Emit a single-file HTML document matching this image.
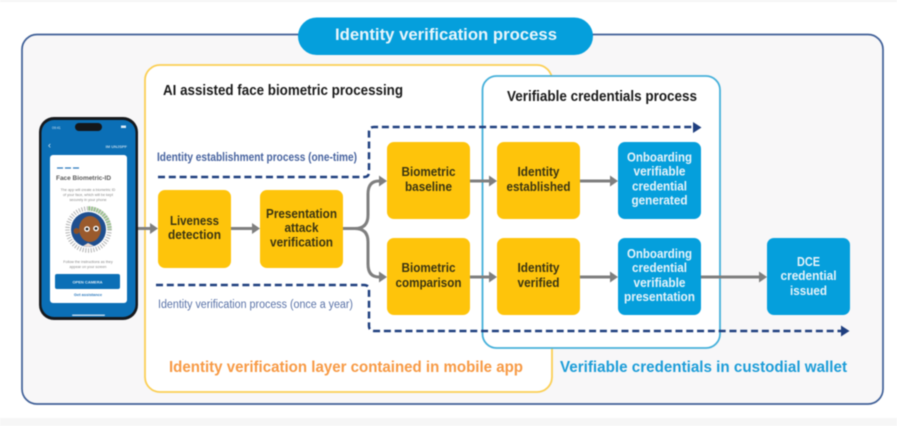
<!DOCTYPE html>
<html><head><meta charset="utf-8"><style>
html,body{margin:0;padding:0;background:#fff;width:897px;height:426px;overflow:hidden}
svg{display:block;filter:blur(.4px)}
text{font-family:"Liberation Sans",sans-serif}
.n{font-size:12.5px;font-weight:700;fill:#3b3512;text-anchor:middle}
.b{font-size:12.5px;font-weight:700;fill:#e6f3fa;text-anchor:middle}
.g{stroke:#7f7f7f;stroke-width:3;fill:none}
.d{stroke:#1f3f7f;stroke-width:2.500;fill:none;stroke-dasharray:7 3.800}
</style></head><body>
<svg width="897" height="426" viewBox="0 0 897 426" xmlns="http://www.w3.org/2000/svg">
<defs><marker id="m" markerUnits="userSpaceOnUse" markerWidth="8" markerHeight="12" refX="0" refY="6" orient="auto"><path d="M0 0.500L8 6L0 11.500Z" fill="#7f7f7f"/></marker></defs>
<rect width="897" height="426" fill="#fff"/>
<rect width="897" height="2" fill="#f5f5f5"/>
<rect y="418" width="897" height="8" fill="#f6f6f6"/>
<rect x="22" y="34.500" width="861" height="369.500" rx="15" fill="#f8f7f8" stroke="#3f5f97" stroke-width="1.700"/>
<rect x="298" y="17.500" width="295" height="37.500" rx="18.700" fill="#059fdc"/>
<text x="446" y="40" font-size="17" font-weight="700" fill="#e8f5fb" text-anchor="middle" textLength="222" lengthAdjust="spacingAndGlyphs">Identity verification process</text>

<rect x="145" y="65" width="407" height="327" rx="15" fill="#fff" stroke="#fbcf55" stroke-width="1.800"/>
<rect x="482.500" y="76" width="237.500" height="272" rx="14" fill="#fff" stroke="#45b0da" stroke-width="1.800"/>
<text x="163" y="95" font-size="14.500" font-weight="700" fill="#1a1a1a" textLength="240" lengthAdjust="spacingAndGlyphs">AI assisted face biometric processing</text>
<text x="507" y="101" font-size="14.500" font-weight="700" fill="#1a1a1a" textLength="190" lengthAdjust="spacingAndGlyphs">Verifiable credentials process</text>
<text x="157" y="161" font-size="11.500" font-weight="700" fill="#47639f" textLength="200" lengthAdjust="spacingAndGlyphs">Identity establishment process (one-time)</text>
<text x="158" y="308" font-size="11.500" fill="#5a73a8" textLength="195" lengthAdjust="spacingAndGlyphs">Identity verification process (once a year)</text>
<text x="169" y="372" font-size="16" font-weight="700" fill="#f79a45" textLength="354" lengthAdjust="spacingAndGlyphs">Identity verification layer contained in mobile app</text>
<text x="560" y="372" font-size="16" font-weight="700" fill="#1d9dd8" textLength="287" lengthAdjust="spacingAndGlyphs">Verifiable credentials in custodial wallet</text>

<!-- connectors -->
<path class="g" d="M138 228.500H150" marker-end="url(#m)"/>
<path class="g" d="M231 228.500H252" marker-end="url(#m)"/>
<path class="g" d="M343 228.500H355Q368 228.500 368 215V194Q368 181 379 181" marker-end="url(#m)"/>
<path class="g" d="M343 228.500H355Q368 228.500 368 242V264Q368 277 379 277" marker-end="url(#m)"/>
<path class="g" d="M470 181H489" marker-end="url(#m)"/>
<path class="g" d="M470 277H489" marker-end="url(#m)"/>
<path class="g" d="M580 181H610" marker-end="url(#m)"/>
<path class="g" d="M580 277H610" marker-end="url(#m)"/>
<path class="g" d="M701 277H759" marker-end="url(#m)"/>

<!-- dashed -->
<path class="d" d="M158 177H364Q369 177 369 172V132Q369 127 374 127H694"/>
<path d="M693 122L701.500 127.500L693 133Z" fill="#1f3f7f"/>
<path class="d" d="M156 285H364Q369 285 369 290V326Q369 331 374 331H842"/>
<path d="M841 325.500L849.500 331L841 336.500Z" fill="#1f3f7f"/>

<!-- nodes -->
<g fill="#fec40b">
<rect x="158" y="190" width="73" height="78" rx="7"/>
<rect x="260" y="190" width="83" height="78" rx="7"/>
<rect x="387" y="142" width="83" height="77" rx="7"/>
<rect x="387" y="238" width="83" height="77" rx="7"/>
<rect x="497" y="142" width="83" height="77" rx="7"/>
<rect x="497" y="238" width="83" height="77" rx="7"/>
</g>
<g fill="#059fdc">
<rect x="618" y="142" width="83" height="77" rx="7"/>
<rect x="618" y="238" width="83" height="77" rx="7"/>
<rect x="767" y="238" width="83" height="77" rx="7"/>
</g>
<text class="n" x="194.500" y="225" textLength="49" lengthAdjust="spacingAndGlyphs">Liveness</text>
<text class="n" x="194.500" y="239" textLength="53" lengthAdjust="spacingAndGlyphs">detection</text>
<text class="n" x="301.500" y="218" textLength="71" lengthAdjust="spacingAndGlyphs">Presentation</text>
<text class="n" x="301.500" y="232" textLength="34" lengthAdjust="spacingAndGlyphs">attack</text>
<text class="n" x="301.500" y="246.500" textLength="63" lengthAdjust="spacingAndGlyphs">verification</text>
<text class="n" x="428.500" y="176" textLength="54" lengthAdjust="spacingAndGlyphs">Biometric</text>
<text class="n" x="428.500" y="191" textLength="47" lengthAdjust="spacingAndGlyphs">baseline</text>
<text class="n" x="428.500" y="272" textLength="54" lengthAdjust="spacingAndGlyphs">Biometric</text>
<text class="n" x="428.500" y="287" textLength="66" lengthAdjust="spacingAndGlyphs">comparison</text>
<text class="n" x="538.500" y="176" textLength="42" lengthAdjust="spacingAndGlyphs">Identity</text>
<text class="n" x="538.500" y="191" textLength="64" lengthAdjust="spacingAndGlyphs">established</text>
<text class="n" x="538.500" y="272" textLength="42" lengthAdjust="spacingAndGlyphs">Identity</text>
<text class="n" x="538.500" y="287" textLength="42" lengthAdjust="spacingAndGlyphs">verified</text>
<text class="b" x="659.500" y="161.500" textLength="65" lengthAdjust="spacingAndGlyphs">Onboarding</text>
<text class="b" x="659.500" y="175.500" textLength="52" lengthAdjust="spacingAndGlyphs">verifiable</text>
<text class="b" x="659.500" y="190.500" textLength="55" lengthAdjust="spacingAndGlyphs">credential</text>
<text class="b" x="659.500" y="204.500" textLength="56" lengthAdjust="spacingAndGlyphs">generated</text>
<text class="b" x="659.500" y="258" textLength="65" lengthAdjust="spacingAndGlyphs">Onboarding</text>
<text class="b" x="659.500" y="272" textLength="55" lengthAdjust="spacingAndGlyphs">credential</text>
<text class="b" x="659.500" y="287" textLength="52" lengthAdjust="spacingAndGlyphs">verifiable</text>
<text class="b" x="659.500" y="301" textLength="71" lengthAdjust="spacingAndGlyphs">presentation</text>
<text class="b" x="808.500" y="266" textLength="23" lengthAdjust="spacingAndGlyphs">DCE</text>
<text class="b" x="808.500" y="280" textLength="56" lengthAdjust="spacingAndGlyphs">credential</text>
<text class="b" x="808.500" y="295" textLength="37" lengthAdjust="spacingAndGlyphs">issued</text>

<!-- phone -->
<rect x="39" y="117" width="99" height="203" rx="15" fill="#16191d"/>
<rect x="41.500" y="120" width="94" height="197" rx="12.500" fill="#0b6fb6"/>
<rect x="75" y="123" width="27" height="8" rx="4" fill="#14171b"/>
<text x="52" y="129" font-size="3.500" fill="#cfe4f3">09:41</text>
<rect x="121" y="125.500" width="5" height="2.500" fill="#dcebf6"/>
<text x="48" y="148" font-size="9" fill="#cfe4f3">‹</text>
<text x="127" y="148" font-size="4" font-weight="700" fill="#b9d6ea" text-anchor="end">IM UNJSPF</text>
<rect x="50" y="155" width="77" height="148" rx="3" fill="#fff"/>
<path d="M57 168H80" stroke="#2c79bd" stroke-width="1.200" stroke-dasharray="6 2"/>
<text x="56" y="180" font-size="6.400" font-weight="700" fill="#5a5a5a" textLength="55" lengthAdjust="spacingAndGlyphs">Face Biometric-ID</text>
<g font-size="3.700" fill="#888" text-anchor="middle">
<text x="88" y="191">The app will create a biometric ID</text>
<text x="88" y="196">of your face, which will be kept</text>
<text x="88" y="201">securely in your phone</text>
<text x="88" y="263">Follow the instructions as they</text>
<text x="88" y="268">appear on your screen</text>
</g>
<circle cx="88.500" cy="229.500" r="21" fill="none" stroke="#b4b4b4" stroke-width="4.500" stroke-dasharray="1 1.700"/>
<path d="M88.500 208.500A21 21 0 0 1 109.500 229.500" fill="none" stroke="#7dbb6a" stroke-width="4.500" stroke-dasharray="1 1.700"/>
<circle cx="88.500" cy="229.500" r="17.500" fill="#1f4f8f"/>
<ellipse cx="90" cy="229" rx="11" ry="13" fill="#9a5a2c"/>
<circle cx="76.500" cy="231" r="3" fill="#8a4f26"/>
<circle cx="87" cy="229" r="2.800" fill="#fff"/><circle cx="87" cy="229" r="1.400" fill="#222"/>
<circle cx="96" cy="228.500" r="2.800" fill="#fff"/><circle cx="96" cy="228.500" r="1.400" fill="#222"/>
<path d="M83 246L88 243L94 246L88 247Z" fill="#e8d8d0"/>
<rect x="55" y="274" width="65" height="15" rx="2" fill="#0b6fb6"/>
<text x="87.500" y="283.500" font-size="4" font-weight="700" fill="#dcebf6" text-anchor="middle">OPEN CAMERA</text>
<text x="88" y="296" font-size="4" font-weight="700" fill="#2c79bd" text-anchor="middle">Get assistance</text>
<rect x="72" y="314.500" width="33" height="1.500" rx=".7" fill="#bcd6ea"/>
</svg>
</body></html>
